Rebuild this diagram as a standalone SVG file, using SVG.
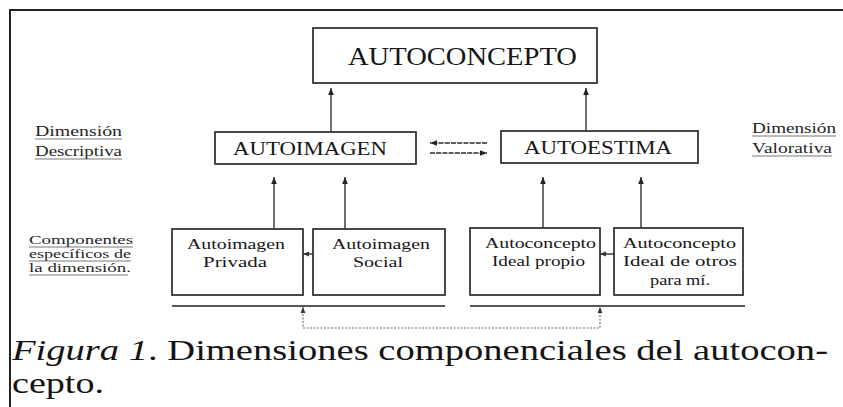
<svg xmlns="http://www.w3.org/2000/svg" width="843" height="407" viewBox="0 0 843 407">
<style>
  .bg{fill:#ffffff}
  .frame{fill:none;stroke:#222;stroke-width:2}
  .box{fill:#ffffff;stroke:#2a2a2a;stroke-width:1.7}
  .t{font-family:"Liberation Serif","Times New Roman",Times,serif;fill:#161616}
  .big{font-size:25px}
  .mid{font-size:19px}
  .small{font-size:15.5px}
  .lab{font-size:14px;fill:#262626}
  .lab3{font-size:13px;fill:#262626}
  .cap{font-size:29px;fill:#141414}
  .ul{stroke:#7a7a7a;stroke-width:1}
  .conn{fill:none;stroke:#222;stroke-width:1.3}
  .dash{fill:none;stroke:#2a2a2a;stroke-width:1.4;stroke-dasharray:5 1.2}
  .dot{fill:none;stroke:#666;stroke-width:1.1;stroke-dasharray:2 1.5}
  .base{stroke:#222;stroke-width:1.6}
</style>
<defs>
  <marker id="ah" viewBox="0 0 10 10" refX="10" refY="5" markerWidth="7" markerHeight="7" markerUnits="userSpaceOnUse" orient="auto-start-reverse">
    <path d="M0,1 L10,5 L0,9 z" fill="#222" stroke="none"/>
  </marker>
  <marker id="ahs" viewBox="0 0 10 10" refX="10" refY="5" markerWidth="6" markerHeight="6" markerUnits="userSpaceOnUse" orient="auto-start-reverse">
    <path d="M0,1 L10,5 L0,9 z" fill="#333" stroke="none"/>
  </marker>
</defs>
<rect class="bg" x="0" y="0" width="843" height="407"/>
<path class="frame" d="M10,407 V10 H843"/>

<g id="labels">
  <text class="t lab" x="35" y="136" textLength="87" lengthAdjust="spacingAndGlyphs">Dimensión</text>
  <text class="t lab" x="35" y="156" textLength="87" lengthAdjust="spacingAndGlyphs">Descriptiva</text>
  <line class="ul" x1="35" y1="139" x2="122" y2="139"/>
  <line class="ul" x1="35" y1="159" x2="122" y2="159"/>
  <text class="t lab" x="752" y="133" textLength="84" lengthAdjust="spacingAndGlyphs">Dimensión</text>
  <text class="t lab" x="752" y="153" textLength="80" lengthAdjust="spacingAndGlyphs">Valorativa</text>
  <line class="ul" x1="752" y1="136" x2="836" y2="136"/>
  <line class="ul" x1="752" y1="156" x2="832" y2="156"/>
  <text class="t lab3" x="29" y="244" textLength="104" lengthAdjust="spacingAndGlyphs">Componentes</text>
  <text class="t lab3" x="29" y="258" textLength="102" lengthAdjust="spacingAndGlyphs">específicos de</text>
  <text class="t lab3" x="29" y="272" textLength="102" lengthAdjust="spacingAndGlyphs">la dimensión.</text>
  <line class="ul" x1="29" y1="247" x2="133" y2="247"/>
  <line class="ul" x1="29" y1="261" x2="131" y2="261"/>
  <line class="ul" x1="29" y1="275" x2="128" y2="275"/>
</g>

<g id="connectors">
  <path class="conn" d="M331,132 V88" marker-end="url(#ah)"/>
  <path class="conn" d="M586,131 V88" marker-end="url(#ah)"/>
  <path class="dash" d="M487,143 H430" marker-end="url(#ah)"/>
  <path class="dash" d="M430,153 H487" marker-end="url(#ah)"/>
  <path class="conn" d="M274,229 V177" marker-end="url(#ah)"/>
  <path class="conn" d="M345,229 V177" marker-end="url(#ah)"/>
  <path class="conn" d="M543,228 V177" marker-end="url(#ah)"/>
  <path class="conn" d="M641,228 V177" marker-end="url(#ah)"/>
  <path class="conn" d="M313,254 H303" marker-end="url(#ahs)"/>
  <path class="conn" d="M614,254 H600" marker-end="url(#ahs)"/>
  <line class="base" x1="172" y1="306" x2="445" y2="306"/>
  <line class="base" x1="470" y1="306" x2="745" y2="306"/>
  <path class="dot" d="M303,307 V328 H600 V307" marker-start="url(#ahs)" marker-end="url(#ahs)"/>
</g>

<g id="autoconcepto">
  <rect class="box" x="313" y="28" width="284" height="55"/>
  <text class="t big" x="348" y="65" textLength="229" lengthAdjust="spacingAndGlyphs">AUTOCONCEPTO</text>
</g>
<g id="autoimagen">
  <rect class="box" x="215" y="132" width="201" height="32"/>
  <text class="t mid" x="233" y="155" textLength="154" lengthAdjust="spacingAndGlyphs">AUTOIMAGEN</text>
</g>
<g id="autoestima">
  <rect class="box" x="501" y="131" width="197" height="32"/>
  <text class="t mid" x="524" y="154" textLength="148" lengthAdjust="spacingAndGlyphs">AUTOESTIMA</text>
</g>
<g id="autoimagen-privada">
  <rect class="box" x="172" y="229" width="131" height="66"/>
  <text class="t small" x="187" y="249" textLength="98" lengthAdjust="spacingAndGlyphs">Autoimagen</text>
  <text class="t small" x="203" y="267" textLength="64" lengthAdjust="spacingAndGlyphs">Privada</text>
</g>
<g id="autoimagen-social">
  <rect class="box" x="313" y="229" width="132" height="66"/>
  <text class="t small" x="332" y="249" textLength="98" lengthAdjust="spacingAndGlyphs">Autoimagen</text>
  <text class="t small" x="353" y="267" textLength="50" lengthAdjust="spacingAndGlyphs">Social</text>
</g>
<g id="ideal-propio">
  <rect class="box" x="470" y="228" width="130" height="67"/>
  <text class="t small" x="485" y="248" textLength="111" lengthAdjust="spacingAndGlyphs">Autoconcepto</text>
  <text class="t small" x="492" y="266" textLength="93" lengthAdjust="spacingAndGlyphs">Ideal propio</text>
</g>
<g id="ideal-otros">
  <rect class="box" x="614" y="228" width="129" height="67"/>
  <text class="t small" x="623" y="248" textLength="113" lengthAdjust="spacingAndGlyphs">Autoconcepto</text>
  <text class="t small" x="623" y="266" textLength="114" lengthAdjust="spacingAndGlyphs">Ideal de otros</text>
  <text class="t small" x="650" y="285" textLength="60" lengthAdjust="spacingAndGlyphs">para mí.</text>
</g>

<g id="caption">
  <text class="t cap" x="12" y="360" textLength="816" lengthAdjust="spacingAndGlyphs"><tspan font-style="italic">Figura 1</tspan>. Dimensiones componenciales del autocon-</text>
  <text class="t cap" x="12" y="393" textLength="92" lengthAdjust="spacingAndGlyphs">cepto.</text>
</g>
</svg>
